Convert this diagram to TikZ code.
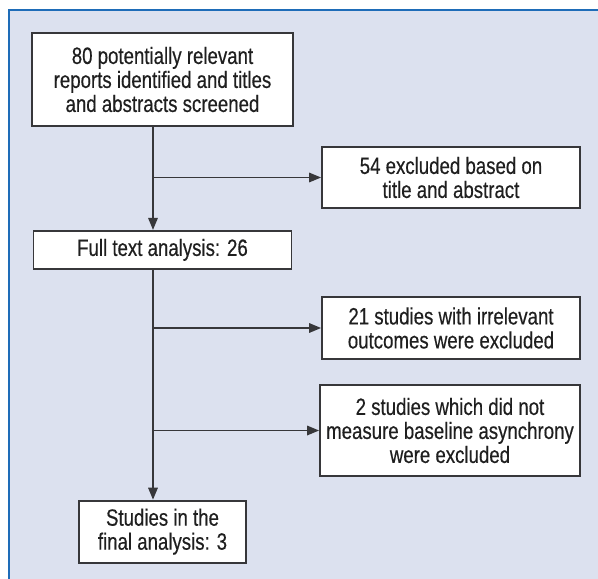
\documentclass[tikz,border=0pt]{standalone}
\usepackage{fontspec}
\setmainfont[FakeStretch=0.79,FakeBold=0.35]{Liberation Sans}
\usetikzlibrary{arrows.meta,positioning}
\definecolor{panelfill}{RGB}{220,225,239}
\definecolor{panelline}{RGB}{30,108,184}
\definecolor{inkgray}{RGB}{55,55,58}
\tikzset{
    %Define standard arrow tip
    >={Triangle[length=12pt,width=9.5pt]},
    %Define style for boxes
    stage/.style={
           rectangle,
           draw=inkgray, line width=1.8pt,
           fill=white,
           text=black!88,
           inner sep=0pt,
           align=center,
           font=\fontsize{23.6}{24}\selectfont},
    % Define arrow style
    flow/.style={
           ->,
           draw=inkgray,
           line width=1.7pt},
}

\begin{document}
\begin{tikzpicture}[x=1pt,y=-1pt]
\useasboundingbox (0,0) rectangle (598,579);
\fill[panelfill] (9,10) rectangle (598,579);
\draw[panelline,line width=2pt] (9,579) -- (9,10) -- (598,10);
\coordinate (spine) at (153,0);
% main column
\node[stage, minimum width=261pt, minimum height=93pt] (reports) at (162.5,79.5)
  {80 potentially relevant\\reports identified and titles\\and abstracts screened};
\node[stage, minimum width=258pt, minimum height=38pt, below=103pt of reports] (fulltext)
  {Full text analysis: 26};
\node[stage, minimum width=167pt, minimum height=62pt, below=230pt of fulltext] (final)
  {Studies in the\\final analysis: 3};
% exclusions
\node[stage, minimum width=258pt, minimum height=61pt] (titleexcl) at (451,177.5)
  {54 excluded based on\\title and abstract};
\node[stage, minimum width=258pt, minimum height=62pt] (outcomeexcl) at (451,328)
  {21 studies with irrelevant\\outcomes were excluded};
\node[stage, minimum width=260pt, minimum height=91pt] (baselineexcl) at (450,430.5)
  {2 studies which did not\\measure baseline asynchrony\\were excluded};
\draw[flow] (reports.south -| spine) -- (fulltext.north -| spine);
\draw[flow] (fulltext.south -| spine) -- (final.north -| spine);
\draw[flow] (spine |- titleexcl.west) -- (titleexcl.west);
\draw[flow] (spine |- outcomeexcl.west) -- (outcomeexcl.west);
\draw[flow] (spine |- baselineexcl.west) -- (baselineexcl.west);
\end{tikzpicture}
\end{document}
